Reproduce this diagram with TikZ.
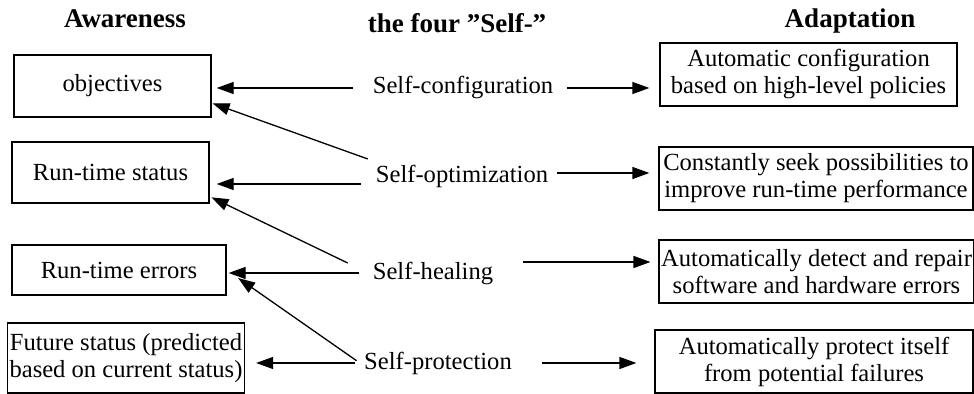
\documentclass[tikz,border=0pt]{standalone}
\usepackage{fontspec}
\setmainfont{Liberation Serif}
\usetikzlibrary{positioning, arrows.meta}
\tikzset{
    awbox/.style={
        draw,
        rectangle,
        line width=0.65pt,
        align=center,
        inner sep=1pt,
    },
    header/.style={
        font=\fontsize{13.5}{15}\selectfont\bfseries,
        anchor=base,
    },
    selflabel/.style={
        inner sep=2pt,
    },
    arr/.style={
        line width=0.65pt,
        -{Triangle[length=8.5pt,width=6pt]},
    }
}

\begin{document}
\begin{tikzpicture}[x=0.5pt, y=-0.5pt, font=\fontsize{12.3}{13.5}\selectfont]
        \useasboundingbox (0,0) rectangle (974,394);
        \node[header] (aw) at (125,28) {Awareness};
        \node[header] (four) at (457,33) {the four ”Self-”};
        \node[header] (adapt) at (850,28) {Adaptation};
        \node[awbox, minimum width=98.5pt, minimum height=31pt] (obj) at (112.5,86) {objectives};
        \node[awbox, minimum width=98.5pt, minimum height=30.5pt] (rts) at (110.5,172.5) {Run-time status};
        \node[awbox, minimum width=107pt, minimum height=25pt] (err) at (119,270) {Run-time errors};
        \node[awbox, minimum width=118pt, minimum height=35pt] (fut) at (126,358) {Future status (predicted\\based on current status)};
        \node[selflabel] (conf) at (463,88) {Self-configuration};
        \node[selflabel] (opt) at (462,176) {Self-optimization};
        \node[selflabel] (heal) at (433,273) {Self-healing};
        \node[selflabel] (prot) at (438,363) {Self-protection};
        \node[awbox, minimum width=148.5pt, minimum height=31.5pt] (ad1) at (808.5,74.5) {Automatic configuration\\based on high-level policies};
        \node[awbox, minimum width=157pt, minimum height=31.5pt] (ad2) at (816,178.5) {Constantly seek possibilities to\\improve run-time performance};
        \node[awbox, minimum width=156.5pt, minimum height=31.5pt] (ad3) at (816.5,271.5) {Automatically detect and repair\\software and hardware errors};
        \node[awbox, minimum width=159pt, minimum height=31.5pt] (ad4) at (814,361.5) {Automatically protect itself\\from potential failures};
        \draw[arr, shorten <=7.5pt, shorten >=2.5pt] (conf.west) to (conf.west -| obj.east);
        \draw[arr, shorten <=5.5pt, shorten >=3.5pt] ([yshift=-4pt]opt.west) to ([yshift=-4pt]opt.west -| rts.east);
        \draw[arr, shorten <=4.5pt, shorten >=1pt] (heal.west) to (heal.west -| err.east);
        \draw[arr, shorten <=2.5pt, shorten >=5.5pt] (prot.west) to (prot.west -| fut.east);
        \draw[arr, shorten <=2pt, shorten >=0.5pt] (opt.north west) to ([yshift=-8.5pt]obj.east);
        \draw[arr, shorten <=11.5pt, shorten >=1pt] (heal.west) to ([yshift=-12pt]rts.east);
        \draw[arr, shorten <=2pt, shorten >=7pt] (prot.west) to (err.east);
        \draw[arr, shorten <=4.5pt, shorten >=5pt] (conf.east) to (conf.east -| ad1.west);
        \draw[arr, shorten <=2.5pt, shorten >=4.5pt] ([yshift=1.5pt]opt.east) to ([yshift=1.5pt]opt.east -| ad2.west);
        \draw[arr, shorten <=12.5pt, shorten >=4pt] ([yshift=5.5pt]heal.east) to ([yshift=5.5pt]heal.east -| ad3.west);
        \draw[arr, shorten <=13pt, shorten >=9pt] (prot.east) to (prot.east -| ad4.west);
\end{tikzpicture}
\end{document}
